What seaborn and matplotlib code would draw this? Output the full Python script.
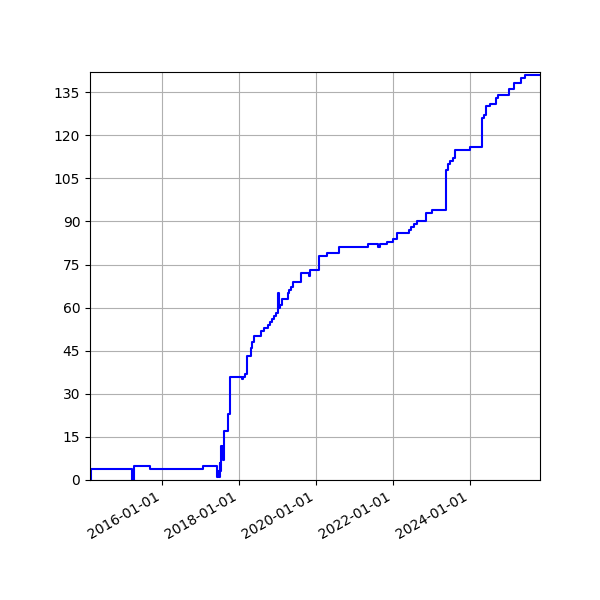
import matplotlib
matplotlib.use("Agg")
import matplotlib.pyplot as plt
import matplotlib.dates as mdates
from matplotlib.ticker import MultipleLocator
import seaborn as sns
import pandas as pd

dates = [
    "2014-02-21", "2014-03-01", "2015-03-26", "2015-04-10", "2015-09-16",
    "2017-01-24", "2017-06-12", "2017-06-22", "2017-06-28", "2017-07-04",
    "2017-07-11", "2017-07-17", "2017-07-25", "2017-08-02", "2017-08-08",
    "2017-08-18", "2017-09-18", "2017-10-07", "2018-02-02", "2018-02-14",
    "2018-02-28", "2018-03-19", "2018-04-26", "2018-05-10", "2018-05-29",
    "2018-08-01", "2018-09-01", "2018-10-02", "2018-10-25", "2018-11-13",
    "2018-12-05", "2018-12-21", "2019-01-12", "2019-01-17", "2019-01-28",
    "2019-02-16", "2019-04-10", "2019-04-26", "2019-05-15", "2019-06-03",
    "2019-08-15", "2019-10-26", "2019-11-08", "2020-02-05", "2020-04-18",
    "2020-08-12", "2021-05-08", "2021-08-11", "2021-08-27", "2021-11-04",
    "2022-01-01", "2022-02-11", "2022-06-01", "2022-06-24", "2022-07-19",
    "2022-08-16", "2022-11-07", "2023-01-09", "2023-05-15", "2023-06-06",
    "2023-06-29", "2023-07-24", "2023-08-15", "2024-01-05", "2024-04-24",
    "2024-05-13", "2024-06-05", "2024-07-13", "2024-09-07", "2024-09-23",
    "2025-01-02", "2025-02-19", "2025-05-03", "2025-06-03", "2025-10-26",
]
counts = [
    0, 4, 0, 5, 4,
    5, 1, 3, 1, 6,
    3, 12, 8, 12, 7,
    17, 23, 36, 35, 36,
    37, 43, 46, 48, 50,
    52, 53, 54, 55, 56,
    57, 58, 65, 60, 61,
    63, 65, 66, 67, 69,
    72, 71, 73, 78, 79,
    81, 82, 81, 82, 83,
    84, 86, 87, 88, 89,
    90, 93, 94, 108, 110,
    111, 112, 115, 116, 126,
    127, 130, 131, 133, 134,
    136, 138, 140, 141, 141,
]

df = pd.DataFrame({"date": pd.to_datetime(dates), "count": counts})

fig, ax = plt.subplots(figsize=(6, 6), dpi=100)
sns.lineplot(data=df, x="date", y="count", drawstyle="steps-post",
             color="blue", estimator=None, linewidth=1.5, ax=ax)
ax.set_xlim(df["date"].min(), df["date"].max())
ax.set_ylim(0, 142)
ax.yaxis.set_major_locator(MultipleLocator(15))
ax.xaxis.set_major_locator(mdates.YearLocator(2))
ax.xaxis.set_major_formatter(mdates.DateFormatter("%Y-%m-%d"))
ax.grid(True)
ax.set_xlabel("")
ax.set_ylabel("")
fig.autofmt_xdate()
fig.subplots_adjust(left=0.15, right=0.9, top=0.88, bottom=0.2)
fig.savefig("out.png", dpi=100)
